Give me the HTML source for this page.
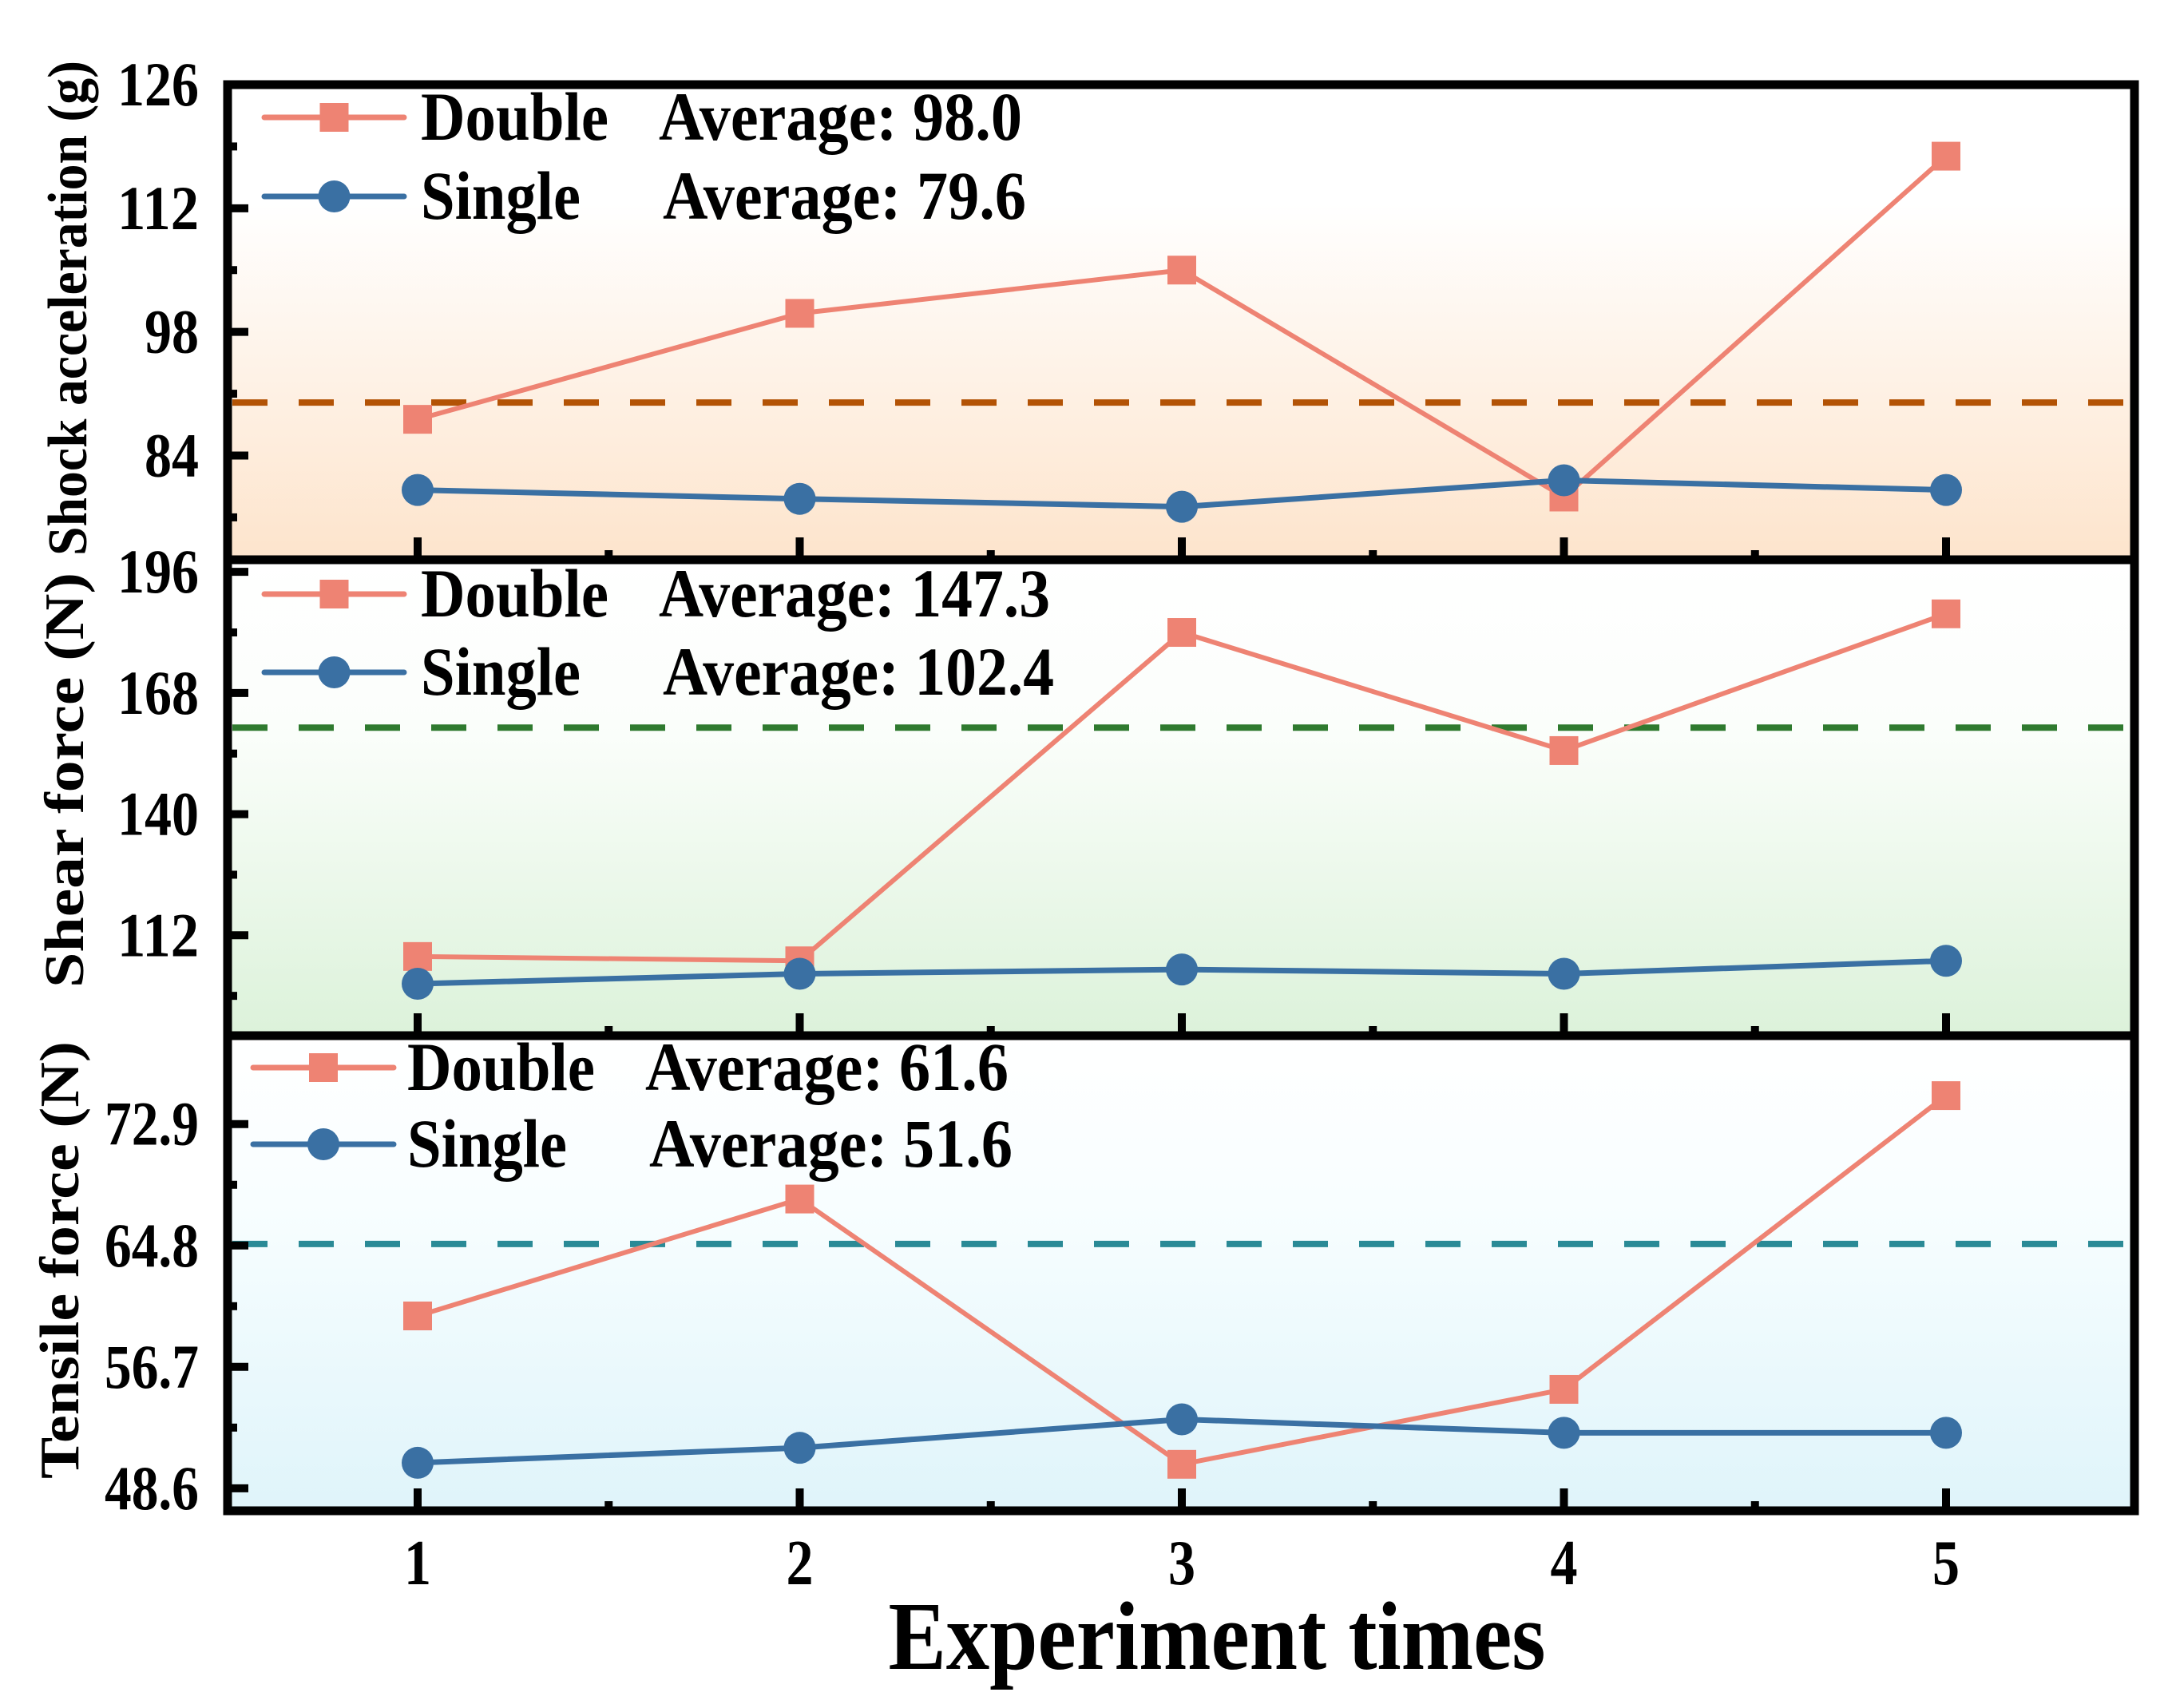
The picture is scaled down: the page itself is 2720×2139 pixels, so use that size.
<!DOCTYPE html>
<html><head><meta charset="utf-8">
<style>
html,body{margin:0;padding:0;background:#fff;}
svg{display:block;}
text{font-family:"Liberation Serif",serif;font-weight:bold;fill:#000;}
</style></head>
<body>
<svg id="chart" width="2720" height="2139" viewBox="0 0 2720 2139" xmlns="http://www.w3.org/2000/svg">
<defs>
<linearGradient id="g1" x1="0" y1="0" x2="0" y2="1">
<stop offset="0" stop-color="#ffffff"/><stop offset="0.25" stop-color="#ffffff"/><stop offset="1" stop-color="#fde4cc"/></linearGradient>
<linearGradient id="g2" x1="0" y1="0" x2="0" y2="1">
<stop offset="0" stop-color="#ffffff"/><stop offset="0.35" stop-color="#fbfefb"/><stop offset="1" stop-color="#dcf2da"/></linearGradient>
<linearGradient id="g3" x1="0" y1="0" x2="0" y2="1">
<stop offset="0" stop-color="#ffffff"/><stop offset="0.35" stop-color="#f8feff"/><stop offset="1" stop-color="#dff4fa"/></linearGradient>
</defs>
<g id="layer"></g>
<text x="1524" y="2090" font-size="122" text-anchor="middle" textLength="823" lengthAdjust="spacingAndGlyphs">Experiment times</text>
</svg>
<script>
const xCats = [1, 2, 3, 4, 5];
const shockDouble = [88.1, 100.1, 105.0, 79.3, 117.9];
const shockSingle = [80.1, 79.1, 78.2, 81.2, 80.1];
const shockAvgLine = 90.0;
const shockTicks = ["126", "112", "98", "84"];
const shearDouble = [107.1, 106.1, 182.0, 154.7, 186.3];
const shearSingle = [100.8, 103.1, 104.1, 103.1, 106.1];
const shearAvgLine = 160;
const shearTicks = ["196", "168", "140", "112"];
const tensileDouble = [60.1, 67.9, 50.2, 55.2, 74.8];
const tensileSingle = [50.3, 51.3, 53.2, 52.3, 52.3];
const tensileAvgLine = 64.9;
const tensileTicks = ["72.9", "64.8", "56.7", "48.6"];
const legendDoubleAvg = ["98.0", "147.3", "61.6"];
const legendSingleAvg = ["79.6", "102.4", "51.6"];

const NS = "http://www.w3.org/2000/svg";
const layer = document.getElementById('layer');
function mk(tag, attrs, parent) {
  const e = document.createElementNS(NS, tag);
  for (const k in attrs) e.setAttribute(k, attrs[k]);
  (parent || layer).appendChild(e);
  return e;
}
const L = 285, R = 2673;
function xs(v) { return 523 + (v - 1) * 478.5; }

const panels = [
  {key:'shock', top:106, bot:701, yMin:72.2, yMax:126, step:14, dbl:shockDouble, sgl:shockSingle, avg:shockAvgLine, ticks:shockTicks, grad:'url(#g1)', dash:'#b35305', title:'Shock acceleration (g)', tx:82, tcy:386, tLen:620,
   leg:{x0:331,x1:506,tx:527,ax:825,y1:175,y2:274}},
  {key:'shear', top:701, bot:1297, yMin:88.8, yMax:198.8, step:28, dbl:shearDouble, sgl:shearSingle, avg:shearAvgLine, ticks:shearTicks, grad:'url(#g2)', dash:'#2f7a2f', title:'Shear force (N)', tx:78, tcy:977, tLen:520,
   leg:{x0:331,x1:506,tx:527,ax:825,y1:772,y2:870}},
  {key:'tensile', top:1297, bot:1892, yMin:47.1, yMax:78.8, step:8.1, dbl:tensileDouble, sgl:tensileSingle, avg:tensileAvgLine, ticks:tensileTicks, grad:'url(#g3)', dash:'#2a8a96', title:'Tensile force (N)', tx:72, tcy:1578, tLen:548,
   leg:{x0:317,x1:493,tx:510,ax:808,y1:1365,y2:1461}}
];
const legDW = 235, legSW = 200;

panels.forEach((p, pi) => {
  const ys = v => p.bot - (v - p.yMin) / (p.yMax - p.yMin) * (p.bot - p.top);
  const g = mk('g', {});
  
  
  const bg = mk('rect', {x:L, y:p.top, width:R-L, height:p.bot-p.top, fill:p.grad}, g);
  
  
  const dl = mk('line', {x1:L+6, x2:R-6, y1:ys(p.avg), y2:ys(p.avg), stroke:p.dash, 'stroke-width':8, 'stroke-dasharray':'44 39'}, g);
  
  
  const top = parseFloat(p.ticks[0]);
  for (let i = 0; i < 8; i++) {
    const v = top - i * p.step / 2;
    if (v < p.yMin) break;
    const y = ys(v);
    const major = i % 2 === 0;
    mk('line', {x1:L, x2:L + (major ? 26 : 12), y1:y, y2:y, stroke:'#000', 'stroke-width':10}, g);
  }
  p.ticks.forEach(t => {
    const tw = t.length === 4 ? 118 : (t.length === 3 ? 102 : 68);
    const tl = mk('text', {x:249, y:ys(parseFloat(t)) + 26, 'font-size':78, 'text-anchor':'end', textLength:tw, lengthAdjust:'spacingAndGlyphs'}, g);
    tl.textContent = t;
    
    
  });
  for (let v = 1; v <= 5.001; v += 0.5) {
    const major = Math.abs(v - Math.round(v)) < 0.01;
    mk('line', {x1:xs(v), x2:xs(v), y1:p.bot, y2:p.bot - (major ? 28 : 12), stroke:'#000', 'stroke-width':10}, g);
  }
  const dPts = p.dbl.map((v, i) => xs(xCats[i]) + ',' + ys(v)).join(' ');
  const sPts = p.sgl.map((v, i) => xs(xCats[i]) + ',' + ys(v)).join(' ');
  const dLine = mk('polyline', {points:dPts, fill:'none', stroke:'#ee8373', 'stroke-width':6}, g);
  
  
  p.dbl.forEach((v, i) => {
    const m = mk('rect', {x:xs(xCats[i]) - 18, y:ys(v) - 18, width:36, height:36, fill:'#ee8373'}, g);
    
    
  });
  const sLine = mk('polyline', {points:sPts, fill:'none', stroke:'#3a70a3', 'stroke-width':7}, g);
  
  
  p.sgl.forEach((v, i) => {
    const c = mk('circle', {cx:xs(xCats[i]), cy:ys(v), r:20, fill:'#3a70a3'}, g);
    
    
  });
  mk('rect', {x:L, y:p.top, width:R-L, height:p.bot-p.top, fill:'none', stroke:'#000', 'stroke-width':11}, g);
  const lg = mk('g', {}, g);
  
  
  const lx = p.leg, mx = (lx.x0 + lx.x1) / 2;
  mk('line', {x1:lx.x0, x2:lx.x1, y1:lx.y1 - 28, y2:lx.y1 - 28, stroke:'#ee8373', 'stroke-width':7, 'stroke-linecap':'round'}, lg);
  mk('rect', {x:mx - 18, y:lx.y1 - 46, width:36, height:36, fill:'#ee8373'}, lg);
  mk('line', {x1:lx.x0, x2:lx.x1, y1:lx.y2 - 28, y2:lx.y2 - 28, stroke:'#3a70a3', 'stroke-width':7, 'stroke-linecap':'round'}, lg);
  mk('circle', {cx:mx, cy:lx.y2 - 28, r:20, fill:'#3a70a3'}, lg);
  const t1 = mk('text', {x:lx.tx, y:lx.y1, 'font-size':86, textLength:legDW, lengthAdjust:'spacingAndGlyphs'}, lg); t1.textContent = 'Double';
  
  
  const a1 = 'Average: ' + legendDoubleAvg[pi];
  const t2 = mk('text', {x:lx.ax, y:lx.y1, 'font-size':86, textLength:a1.length * 35, lengthAdjust:'spacingAndGlyphs'}, lg); t2.textContent = a1;
  
  
  const t3 = mk('text', {x:lx.tx, y:lx.y2, 'font-size':86, textLength:legSW, lengthAdjust:'spacingAndGlyphs'}, lg); t3.textContent = 'Single';
  
  
  const a2 = 'Average: ' + legendSingleAvg[pi];
  const t4 = mk('text', {x:lx.ax + 5, y:lx.y2, 'font-size':86, textLength:a2.length * 35, lengthAdjust:'spacingAndGlyphs'}, lg); t4.textContent = a2;
  
  
  const yt = mk('text', {x:0, y:0, 'font-size':70, 'text-anchor':'middle', transform:'translate(' + (p.tx + 26) + ',' + p.tcy + ') rotate(-90)', textLength:p.tLen, lengthAdjust:'spacingAndGlyphs'});
  yt.textContent = p.title;
  
  
});
xCats.forEach(v => {
  const t = mk('text', {x:xs(v), y:1984, 'font-size':80, 'text-anchor':'middle', textLength:34, lengthAdjust:'spacingAndGlyphs'});
  t.textContent = String(v);
  
  
});
</script>
</body></html>
